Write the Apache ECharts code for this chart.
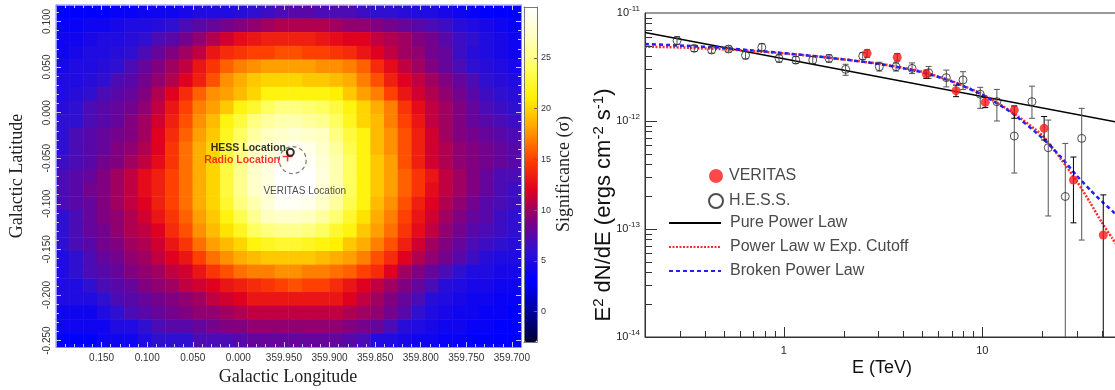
<!DOCTYPE html>
<html><head><meta charset="utf-8">
<script src="https://cdn.jsdelivr.net/npm/echarts@6/dist/echarts.min.js"></script>
<style>html,body{margin:0;padding:0;background:#fff}#c{width:1115px;height:390px}</style>
</head><body><div id="c"></div>
<script>
// ---------- Left panel: significance map (rows top->bottom, cols left->right) ----------
const sigMap = [
[3,3,3,3,3.5,3.5,4,4,4,4.5,5,5,5,5.5,6,6.5,7, 7.5,7.5,7,7,7,6.5,6,6,5.5,5,5,4.5,4,3.5,3,3,3],
[3.5,3.5,4,4,4.5,5,5,5.5,6,7,7.5,8,8.5,9,9.5,10,10.5, 10.5,10.5,10.5,10,9.5,9.5,9,8.5,8,7.5,7,6.5,5.5,5,4.5,4,3.5],
[4,4,4.5,5,5,5.5,6,7,7.5,8.5,9.5,10.5,11.5,12.5,13,13.5,13.5, 13.5,13.5,13,12.5,12,12,11,10.5,10,9,8.5,7.5,6.5,6,5,4.5,4],
[4,4.5,5,5,5.5,6,7,8,9,10,11,13,14,14.5,15,15,15.5, 15.5,15,15,14.5,14,13,12,11,10,9.5,8.5,8,6.5,5.5,5,4.5,4],
[4.5,5,5,5.5,6,7,8,9,10,11,13,14.5,16,17,17.5,18,18, 18,18,17.5,17.5,17,16,14,12.5,11,10,9,8,7,6,5.5,5,4.5],
[5,5,5.5,6,7,7.5,8.5,9.5,10.5,12,13.5,15.5,17.5,18.5,19.5,20,20, 20,19.5,19.5,19,18.5,17,15.5,13.5,12,11,10,9,8,7,6,5.5,5],
[5,5.5,6,7,7.5,8,9,10.5,12, 14,16,17.5,18,19,20,21.5,21.5,21.5,21.5,21.5,21,19.5,18,17,15,13, 11.5,10.5,9.5,8.5,7.5,6.5,6,5.5],
[5.5,6,7,7.5,8,8.5,9.5,11,13, 15,17,18,19.5,21.5,22.5,24,25,25,24.5,24,23,21.5,20,18.5,17,14.5, 12.5,11,10,9,8,7,6.5,6],
[6,6,7,7.5,8,9,10,11.5,13.5, 15.5,17.5,19,21.5,23,25,26,26.5,26.5,26,25.5,24,22,20,19,17,15, 13,11,10,9,8,7.5,7,6.5],
[6,7,7.5,8,8.5,9,10,12,14, 16,18,19.5,22,24,26,27,27.5,28,27.5,27,25,23,21.5,19,17.5,15.5, 13.5,11.5,10,9,8.5,8,7.5,7],
[6,7,7.5,8,9,9.5,10.5,12,14.5, 16.5,18.5,20,23,25,27,28,28.5,29.5,29,27.5,26,23.5,21.5,19,17.5,15.5, 13.5,11.5,10.5,9.5,9,8.5,8,7.5],
[6.5,7,7.5,8.5,9,10,11,12.5,14.5, 16.5,18.5,20,23,25.5,27.5,28.5,29.5,30,29.5,28,26.5,24,21.5,19.5,18,15.5, 13.5,11.5,10.5,9.5,9,8.5,8,7.5],
[7,7.5,8,9,10,11,12.5,13.5,15, 16.5,18.5,20,23,25.5,27.5,28.5,30,30,30,28.5,26.5,24,21.5,19.5,18,16, 14.5,13,11,10,9,8,7,7],
[7,7.5,8.5,9,10,11,12.5,13.5,15, 16.5,18.5,20,23,25.5,27.5,28.5,30,30,30,28,26.5,24,21.5,19.5,18,16, 14.5,12.5,11,10,9,8,7,6.5],
[7,7.5,8,9,10,11,12,13.5,15, 16.5,18.5,20,22.5,25,26.5,28,29.5,29.5,29,27.5,26,23.5,21.5,19,17.5,15.5, 13.5,12,10.5,9.5,8.5,7.5,7,6.5],
[6,7,8,9,9.5,10.5,11.5,13,14.5, 16,18,19.5,21.5,23.5,25.5,27,27.5,27.5,27,26,24.5,22.5,20.5,18.5,17,15, 13,11.5,10,9,8,7.5,6.5,6],
[6,7,8,8.5,9.5,10.5,11,12,14, 15.5,17.5,19,20.5,22,24,25,25.5,25.5,25,24,22.5,21.5,19.5,18,16.5,14.5, 12.5,11,9.5,8.5,7.5,7,6.5,6],
[6,7,7.5,8.5,9,10,10.5,11.5,13, 14.5,16.5,18,19,20,21.5,22,22.5,22.5,22,21.5,21,19.5,18.5,17,15.5,13.5, 11.5,10,9,8,7,6.5,6,5.5],
[5,6,7,8,8.5,9.5,10,11,12, 13,15,16.5,17.5,18.5,19,19.5,19.5,19.5,19.5,19,18.5,18,17,15.5,14,12, 10.5,9.5,8.5,7.5,6.5,5.5,5,5],
[5,6,7,7.5,8,9,9.5,10,11, 11.5,13,14.5,15.5,16.5,17,17,17.5,17.5,17,17,16.5,16,15,14,12,10, 9,8,7,6,5,5,4.5,4.5],
[5,5,6,7,7.5,8,9,9.5,10,11,11.5,12,13,13.5,14,14.5,15, 15.5,15,15,14,13,12,11,10,9,8,7,5.5,5,4.5,4.5,4,4],
[5,5,5,6,7,7.5,8,8.5,9,9.5,10,11,11.5,12,13,13,13, 13,13,13,13,12,11,10,9,8,7,5.5,5,4.5,4,4,3.5,3.5],
[4,4,4,5,6,7,7.5,8,8.5,9,9.5,9.5,10,10.5,11,11,11, 11,11,11,11,10.5,10,9.5,8.5,7.5,6,5,4.5,4,4,3.5,3.5,3],
[4,4,4,4,5,5,6,7,7.5,7.5,8,8.5,9,9,9.5,9.5,9.5, 9.5,9.5,9.5,9.5,9,8.5,8,7,5.5,5,4.5,4,4,3.5,3.5,3,3],
[3,3,3,4,4,4,5,6,6,6,7,7,7,7.5,8,8,8, 8,8,8,8,7.5,7,5,5,4.5,4,4,3.5,3.5,3,3,3,3]
];
// map extent (degrees; longitude expressed relative to 0, negative = 359.x)
const lonRange = [-0.31, 0.2];
const latRange = [-0.257, 0.118];
const sigRange = [-3, 30];
const lonTicks = [0.15,0.10,0.05,0.00,-0.05,-0.10,-0.15,-0.20,-0.25,-0.30];
const lonMinor = [0.19,0.18,0.17,0.16,0.14,0.13,0.12,0.11,0.09,0.08,0.07,0.06,0.04,0.03,0.02,0.01,
  -0.01,-0.02,-0.03,-0.04,-0.06,-0.07,-0.08,-0.09,-0.11,-0.12,-0.13,-0.14,-0.16,-0.17,-0.18,-0.19,
  -0.21,-0.22,-0.23,-0.24,-0.26,-0.27,-0.28,-0.29];
const latTicks = [0.10,0.05,0.00,-0.05,-0.10,-0.15,-0.20,-0.25];
const latMinor = [0.11,0.09,0.08,0.07,0.06,0.04,0.03,0.02,0.01,-0.01,-0.02,-0.03,-0.04,-0.06,-0.07,-0.08,-0.09,
  -0.11,-0.12,-0.13,-0.14,-0.16,-0.17,-0.18,-0.19,-0.21,-0.22,-0.23,-0.24];
const sigTicks = [0,5,10,15,20,25];
// source locations (galactic l, b)
const hessLoc = [359.943, -0.0435];
const radioLoc = [359.946, -0.048];
const veritasLoc = [359.9404, -0.052];
const hessLabelAt = [359.9477, -0.0388];
const radioLabelAt = [359.9543, -0.052];
const veritasLabelAt = [359.9272, -0.0859];

// ---------- Right panel: spectrum ----------
const hessE  = [0.29,0.354,0.433,0.527,0.642,0.775,0.947,1.15,1.40,1.69,2.05,2.50,3.03,3.68,4.43,5.37,6.59,8.0,9.77,11.85,14.5,17.8,21.5,26.2,31.7];
const hessF  = [5.55e-12,4.71e-12,4.54e-12,4.64e-12,4.06e-12,4.81e-12,3.80e-12,3.67e-12,3.67e-12,3.80e-12,3.01e-12,4.0e-12,3.18e-12,3.18e-12,3.07e-12,2.80e-12,2.52e-12,2.40e-12,1.77e-12,1.51e-12,7.26e-13,1.51e-12,5.66e-13,2.0e-13,6.9e-13];
const hessLo = [5.1e-12,4.4e-12,4.25e-12,4.35e-12,3.75e-12,4.45e-12,3.5e-12,3.4e-12,3.4e-12,3.5e-12,2.65e-12,3.7e-12,2.9e-12,2.9e-12,2.75e-12,2.48e-12,2.07e-12,1.96e-12,1.31e-12,1.0e-12,3.3e-13,1.06e-12,1.32e-13,1e-16,7.9e-14];
const hessHi = [6.05e-12,5.0e-12,4.85e-12,4.95e-12,4.4e-12,5.2e-12,4.1e-12,3.95e-12,3.95e-12,4.1e-12,3.35e-12,4.3e-12,3.5e-12,3.5e-12,3.45e-12,3.2e-12,2.96e-12,2.86e-12,2.05e-12,1.96e-12,1.36e-12,2.1e-12,1.02e-12,6.2e-13,1.31e-12];
const verE  = [2.63,3.73,5.23,7.38,10.35,14.5,20.5,28.8,40.7];
const verF  = [4.23e-12,3.89e-12,2.72e-12,1.91e-12,1.49e-12,1.26e-12,8.55e-13,2.84e-13,8.8e-14];
const verLo = [3.9e-12,3.6e-12,2.48e-12,1.68e-12,1.33e-12,1.06e-12,6.67e-13,1.14e-13,1e-16];
const verHi = [4.55e-12,4.2e-12,2.96e-12,2.15e-12,1.66e-12,1.38e-12,1.1e-12,4.64e-13,2.07e-13];
const fitE    = [0.2,0.3,0.5,0.7,1,1.5,2,3,4,5,7,10,14,20,25,30,35,40,45,50];
const cutoffF = [4.88e-12,4.80e-12,4.62e-12,4.45e-12,4.23e-12,3.95e-12,3.72e-12,3.40e-12,3.10e-12,2.86e-12,2.35e-12,1.77e-12,1.22e-12,7.4e-13,4.4e-13,2.75e-13,1.75e-13,1.15e-13,8.3e-14,6.2e-14];
const brokenF = [5.16e-12,5.0e-12,4.75e-12,4.5e-12,4.25e-12,3.95e-12,3.72e-12,3.38e-12,3.08e-12,2.82e-12,2.33e-12,1.75e-12,1.20e-12,7.0e-13,4.6e-13,3.1e-13,2.3e-13,1.8e-13,1.48e-13,1.22e-13];
const powerE = [0.2, 1, 50];
const powerF = [6.6e-12, 3.77e-12, 9.6e-13];
const eRange = [0.2, 50];
const fRange = [1e-14, 1e-11];
const eMajor = [1, 10];
const eMinor = [0.3,0.4,0.5,0.6,0.7,0.8,0.9,2,3,4,5,6,7,8,9,20,30,40];
const fMajor = [1e-13, 1e-12];
const fMinor = [2e-14,3e-14,4e-14,5e-14,6e-14,7e-14,8e-14,9e-14,2e-13,3e-13,4e-13,5e-13,6e-13,7e-13,8e-13,9e-13,2e-12,3e-12,4e-12,5e-12,6e-12,7e-12,8e-12,9e-12];

// ---------- helpers ----------
const toAxisLon = l => (l > 180 ? l - 360 : l);
const lonFmt = v => { const d = v < -1e-9 ? 360 + v : Math.abs(v); return d.toFixed(3); };
const latFmt = v => (Math.abs(v) < 1e-9 ? 0 : v).toFixed(3);
const heatData = [];
sigMap.forEach((row, r) => row.forEach((v, c) => heatData.push([c, r, v])));
const colIdx = sigMap[0].map((_, i) => String(i));
const rowIdx = sigMap.map((_, i) => String(i));

const tickColor = '#c8c8ff', frameColor = '#8c8cff';
function lonAxis(pos, ticks, len, label, line) {
  return { type: 'value', gridIndex: 1, position: pos, inverse: true, min: lonRange[0], max: lonRange[1], z: 10,
    axisLine: { show: line, onZero: false, lineStyle: { color: frameColor, width: 1 } },
    axisTick: { show: true, inside: true, length: len, customValues: ticks, lineStyle: { color: tickColor } },
    axisLabel: { show: label, customValues: ticks, formatter: lonFmt, fontSize: 10, color: '#333', margin: 6, fontFamily: 'Liberation Sans' },
    splitLine: { show: false } };
}
function latAxis(pos, ticks, len, label, line) {
  return { type: 'value', gridIndex: 1, position: pos, min: latRange[0], max: latRange[1], z: 10,
    axisLine: { show: line, onZero: false, lineStyle: { color: frameColor, width: 1 } },
    axisTick: { show: true, inside: true, length: len, customValues: ticks, lineStyle: { color: tickColor } },
    axisLabel: { show: label, customValues: ticks, formatter: latFmt, rotate: 90, fontSize: 10, color: '#333', margin: 4, fontFamily: 'Liberation Sans' },
    splitLine: { show: false } };
}
function plainAxis(grid, pos, line) {
  return { type: 'value', gridIndex: grid, position: pos, min: 0, max: 1, z: 10,
    axisLine: { show: line, onZero: false, lineStyle: { color: '#777' } }, axisTick: { show: false }, axisLabel: { show: false }, splitLine: { show: false } };
}
function xTicks(vals, len) {
  return { type: 'custom', xAxisIndex: 7, yAxisIndex: 7, silent: true, z: 4, clip: false,
    data: vals.map(v => [v, fRange[0]]),
    renderItem: (p, api) => { const pt = api.coord([api.value(0), api.value(1)]); const x = Math.round(pt[0]) + 0.5;
      return { type: 'line', shape: { x1: x, y1: pt[1], x2: x, y2: pt[1] - len }, style: { stroke: '#333', lineWidth: 1 } }; } };
}
function yTicks(vals, len) {
  return { type: 'custom', xAxisIndex: 7, yAxisIndex: 7, silent: true, z: 4, clip: false,
    data: vals.map(v => [eRange[0], v]),
    renderItem: (p, api) => { const pt = api.coord([api.value(0), api.value(1)]); const y = Math.round(pt[1]) + 0.5;
      return { type: 'line', shape: { x1: pt[0], y1: y, x2: pt[0] + len, y2: y }, style: { stroke: '#333', lineWidth: 1 } }; } };
}
function errSeries(E, lo, hi, color) {
  return { type: 'custom', xAxisIndex: 7, yAxisIndex: 7, silent: true, z: 3, clip: true,
    data: E.map((e, i) => [e, lo[i], hi[i]]), encode: { x: 0, y: [1, 2] },
    renderItem: (p, api) => {
      const x = api.value(0); const a = api.coord([x, api.value(2)]); const b = api.coord([x, api.value(1)]); const c = 3;
      const st = { stroke: color, lineWidth: 1 };
      return { type: 'group', children: [
        { type: 'line', shape: { x1: a[0], y1: a[1], x2: b[0], y2: b[1] }, style: st },
        { type: 'line', shape: { x1: a[0] - c, y1: a[1], x2: a[0] + c, y2: a[1] }, style: st },
        { type: 'line', shape: { x1: b[0] - c, y1: b[1], x2: b[0] + c, y2: b[1] }, style: st } ] };
    } };
}
const pair = (xs, ys) => xs.map((x, i) => [x, ys[i]]);
const lb = p => [toAxisLon(p[0]), p[1]];

const supRich = { b: { fontSize: 11, color: '#222', lineHeight: 16, fontFamily: 'Liberation Sans' },
                  s: { fontSize: 8, color: '#222', verticalAlign: 'top', lineHeight: 10, fontFamily: 'Liberation Sans' } };

const chart = echarts.init(document.getElementById('c'), null, { renderer: 'canvas' });
chart.setOption({
  animation: false,
  backgroundColor: '#fff',
  grid: [
    { left: 56, top: 5, width: 465, height: 342, containLabel: false, outerBoundsMode: 'none' },
    { left: 56, top: 5, width: 465, height: 342, containLabel: false, outerBoundsMode: 'none' },
    { left: 524, top: 7, width: 13, height: 335, containLabel: false, outerBoundsMode: 'none' },
    { left: 645, top: 13, width: 476, height: 324, containLabel: false, outerBoundsMode: 'none', show: true, borderColor: '#333', borderWidth: 1 }
  ],
  xAxis: [
    { type: 'category', gridIndex: 0, data: colIdx, show: false },
    lonAxis('bottom', lonTicks, 5, true, true),
    lonAxis('bottom', lonMinor, 3, false, false),
    lonAxis('top', lonTicks, 5, false, true),
    lonAxis('top', lonMinor, 3, false, false),
    plainAxis(2, 'bottom', true),
    plainAxis(2, 'top', true),
    { type: 'log', logBase: 10, gridIndex: 3, min: eRange[0], max: eRange[1], position: 'bottom',
      axisLine: { show: true, onZero: false, lineStyle: { color: '#333' } }, axisTick: { show: false },
      axisLabel: { fontSize: 11, color: '#222', margin: 8, showMinLabel: false, showMaxLabel: false, fontFamily: 'Liberation Sans' },
      splitLine: { show: false }, minorTick: { show: false } }
  ],
  yAxis: [
    { type: 'category', gridIndex: 0, data: rowIdx, inverse: true, show: false },
    latAxis('left', latTicks, 5, true, true),
    latAxis('left', latMinor, 3, false, false),
    latAxis('right', latTicks, 5, false, true),
    latAxis('right', latMinor, 3, false, false),
    plainAxis(2, 'left', true),
    { type: 'value', gridIndex: 2, position: 'right', min: sigRange[0], max: sigRange[1], z: 10,
      axisLine: { show: true, onZero: false, lineStyle: { color: '#777' } },
      axisTick: { show: true, inside: true, length: 3, customValues: sigTicks, lineStyle: { color: '#666' } },
      axisLabel: { customValues: sigTicks, fontSize: 9, color: '#333', margin: 4, fontFamily: 'Liberation Sans' },
      splitLine: { show: false } },
    { type: 'log', logBase: 10, gridIndex: 3, min: fRange[0], max: fRange[1], position: 'left',
      axisLine: { show: true, onZero: false, lineStyle: { color: '#333' } }, axisTick: { show: false },
      axisLabel: { margin: 5, formatter: v => '{b|10}{s|' + Math.round(Math.log10(v)) + '}', rich: supRich },
      splitLine: { show: false }, minorTick: { show: false } }
  ],
  visualMap: {
    type: 'continuous', seriesIndex: 0, dimension: 2, min: sigRange[0], max: sigRange[1],
    left: 524, top: 7, itemWidth: 13, itemHeight: 335, padding: 0, calculable: false, hoverLink: false,
    inRange: { color: ['#000033','#0000a0','#0000ff','#3010d0','#800080','#e00020','#ff4000','#ffa000','#fff000','#ffff60','#ffffc0','#ffffff'] }
  },
  legend: [
    { data: ['VERITAS', 'H.E.S.S.'], orient: 'vertical', left: 708, top: 167, itemWidth: 16, itemHeight: 14, itemGap: 7,
      padding: 0, selectedMode: false, textStyle: { fontSize: 16, color: '#4a4a4a', lineHeight: 18, fontFamily: 'Liberation Sans' } },
    { data: ['Pure Power Law', 'Power Law w Exp. Cutoff', 'Broken Power Law'], orient: 'vertical', left: 668, top: 214,
      itemWidth: 52, itemHeight: 14, itemGap: 6, padding: 0, selectedMode: false, itemStyle: { opacity: 0 },
      textStyle: { fontSize: 16, color: '#4a4a4a', lineHeight: 18, padding: [0, 0, 0, 4], fontFamily: 'Liberation Sans' } }
  ],
  graphic: [
    { type: 'text', x: 17, y: 176, rotation: Math.PI / 2, style: { text: 'Galactic Latitude', fontSize: 18, fontFamily: 'Liberation Serif', fill: '#222', align: 'center', verticalAlign: 'middle' } },
    { type: 'text', x: 288, y: 377, style: { text: 'Galactic Longitude', fontSize: 18, fontFamily: 'Liberation Serif', fill: '#222', align: 'center', verticalAlign: 'middle' } },
    { type: 'text', x: 564, y: 174, rotation: Math.PI / 2, style: { text: 'Significance (σ)', fontSize: 18, fontFamily: 'Liberation Serif', fill: '#222', align: 'center', verticalAlign: 'middle' } },
    { type: 'text', x: 604, y: 205, rotation: Math.PI / 2, style: {
        text: '{n|E}{s|2}{n| dN/dE (ergs cm}{s|-2}{n| s}{s|-1}{n|)}', align: 'center', verticalAlign: 'middle',
        rich: { n: { fontSize: 22, fontFamily: 'Liberation Sans', fill: '#111', lineHeight: 26 },
                s: { fontSize: 15, fontFamily: 'Liberation Sans', fill: '#111', lineHeight: 15, verticalAlign: 'top' } } } },
    { type: 'text', x: 882, y: 368, style: { text: 'E (TeV)', fontSize: 18, fontFamily: 'Liberation Sans', fill: '#111', align: 'center', verticalAlign: 'middle' } }
  ],
  series: [
    { type: 'heatmap', xAxisIndex: 0, yAxisIndex: 0, data: heatData, progressive: 0, silent: true, itemStyle: { borderWidth: 0 }, emphasis: { disabled: true } },
    // VERITAS location circle
    { type: 'scatter', xAxisIndex: 1, yAxisIndex: 1, z: 5, silent: true, symbol: 'circle', symbolSize: 27, data: [lb(veritasLoc)],
      itemStyle: { color: 'rgba(0,0,0,0)', borderColor: '#555', borderWidth: 1.2, borderType: [4, 3] } },
    // radio location cross
    { type: 'scatter', xAxisIndex: 1, yAxisIndex: 1, z: 6, silent: true, symbol: 'path://M0,5L10,5M5,0L5,10', symbolSize: 10, data: [lb(radioLoc)],
      itemStyle: { color: 'none', borderColor: '#ff0000', borderWidth: 1.5 } },
    // HESS location ring
    { type: 'scatter', xAxisIndex: 1, yAxisIndex: 1, z: 7, silent: true, symbol: 'circle', symbolSize: 7, data: [lb(hessLoc)],
      itemStyle: { color: 'rgba(0,0,0,0)', borderColor: '#000', borderWidth: 2 } },
    // labels
    { type: 'scatter', xAxisIndex: 1, yAxisIndex: 1, z: 8, silent: true, symbolSize: 0,
      data: [
        { value: lb(hessLabelAt), label: { formatter: 'HESS Location', color: '#000', fontWeight: 'bold', fontSize: 10.5, align: 'right' } },
        { value: lb(radioLabelAt), label: { formatter: 'Radio Location', color: '#ff0000', fontWeight: 'bold', fontSize: 10.5, align: 'right' } },
        { value: lb(veritasLabelAt), label: { formatter: 'VERITAS Location', color: '#222', fontSize: 10, align: 'center' } }
      ],
      label: { show: true, position: [0, 0], verticalAlign: 'middle', fontFamily: 'Liberation Sans' } },
    // spectrum
    xTicks(eMajor, 10), xTicks(eMinor, 6), yTicks(fMajor, 12), yTicks(fMinor, 7),
    { name: 'Pure Power Law', type: 'line', xAxisIndex: 7, yAxisIndex: 7, data: pair(powerE, powerF), symbol: 'none', z: 2,
      lineStyle: { color: '#000', width: 1.5 }, itemStyle: { color: '#000' } },
    { name: 'Power Law w Exp. Cutoff', type: 'line', xAxisIndex: 7, yAxisIndex: 7, data: pair(fitE, cutoffF), symbol: 'none', smooth: 0.2, z: 2,
      lineStyle: { color: '#ff2a2a', width: 2.5, type: [2, 1.5] }, itemStyle: { color: '#ff2a2a' } },
    { name: 'Broken Power Law', type: 'line', xAxisIndex: 7, yAxisIndex: 7, data: pair(fitE, brokenF), symbol: 'none', smooth: 0.2, z: 2,
      lineStyle: { color: '#2020ff', width: 2.5, type: [4, 3] }, itemStyle: { color: '#2020ff' } },
    errSeries(hessE, hessLo, hessHi, '#555'),
    errSeries(verE, verLo, verHi, '#000'),
    { name: 'H.E.S.S.', type: 'scatter', xAxisIndex: 7, yAxisIndex: 7, data: pair(hessE, hessF), symbol: 'circle', symbolSize: 8, z: 5,
      itemStyle: { color: 'rgba(0,0,0,0)', borderColor: '#222', borderWidth: 1 } },
    { name: 'VERITAS', type: 'scatter', xAxisIndex: 7, yAxisIndex: 7, data: pair(verE, verF), symbol: 'circle', symbolSize: 9, z: 6,
      itemStyle: { color: '#ff1a1a' } }
  ]
});
</script>
</body></html>
